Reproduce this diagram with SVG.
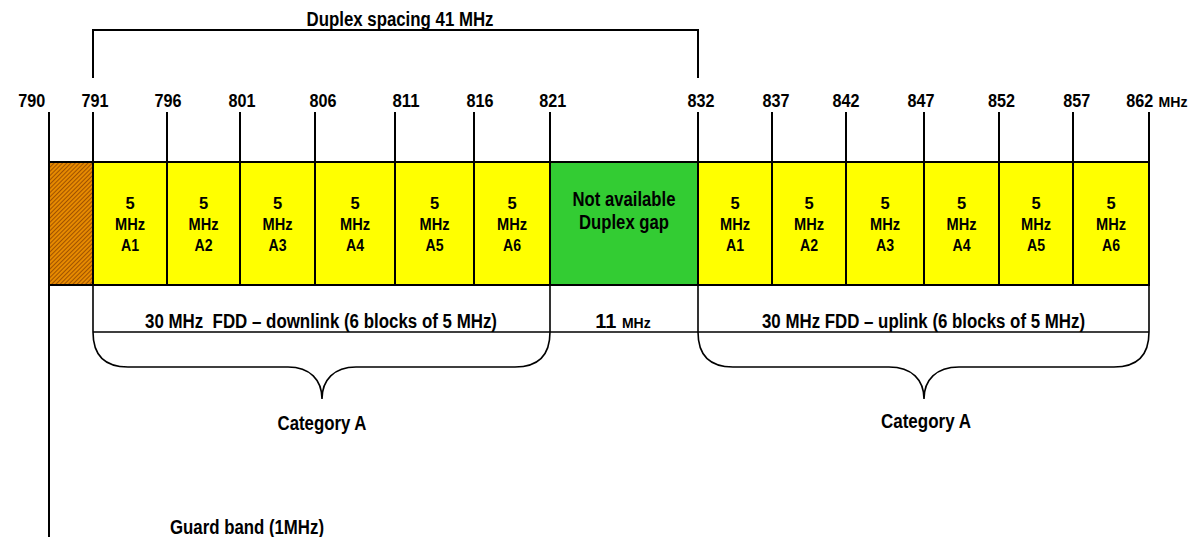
<svg xmlns="http://www.w3.org/2000/svg" width="1189" height="537" viewBox="0 0 1189 537">
<style>
text{font-family:"Liberation Sans",Arial,sans-serif;font-weight:bold;fill:#000;text-anchor:middle;white-space:pre}
.tick{font-size:18px}
.big{font-size:20px}
.blk{font-size:16.5px}
.sm{font-size:14px}
.ln{stroke:#000;stroke-width:2;fill:none}
.thin{stroke:#000;stroke-width:1.6;fill:none}
.yel{fill:#FFFF00;stroke:#000;stroke-width:2}
.grn{fill:#33CC33;stroke:#000;stroke-width:2}
</style>
<defs>
<pattern id="hatch" width="3" height="3" patternUnits="userSpaceOnUse" patternTransform="rotate(45)">
<rect width="3" height="3" fill="#E68A00"/>
<line x1="0" y1="0" x2="0" y2="3" stroke="#7A3300" stroke-width="1.3"/>
</pattern>
</defs>
<g id="guard"><rect x="49" y="162" width="44" height="123" fill="url(#hatch)" stroke="#000" stroke-width="2"/></g>
<g id="dl">
<rect class="yel" x="93" y="162" width="74" height="123"/>
<rect class="yel" x="167" y="162" width="73" height="123"/>
<rect class="yel" x="240" y="162" width="75" height="123"/>
<rect class="yel" x="315" y="162" width="80" height="123"/>
<rect class="yel" x="395" y="162" width="79" height="123"/>
<rect class="yel" x="474" y="162" width="76" height="123"/>
</g>
<g id="gap"><rect class="grn" x="550" y="162" width="148" height="123"/>
<text class="big" x="624" y="206" textLength="103" lengthAdjust="spacingAndGlyphs">Not available</text>
<text class="big" x="624" y="229" textLength="90" lengthAdjust="spacingAndGlyphs">Duplex gap</text></g>
<g id="ul">
<rect class="yel" x="698" y="162" width="74" height="123"/>
<rect class="yel" x="772" y="162" width="74" height="123"/>
<rect class="yel" x="846" y="162" width="78" height="123"/>
<rect class="yel" x="924" y="162" width="75" height="123"/>
<rect class="yel" x="999" y="162" width="74" height="123"/>
<rect class="yel" x="1073" y="162" width="76" height="123"/>
</g>
<g id="blocklabels">
<text class="blk" x="130" y="209">5</text><text class="blk" x="130" y="230" textLength="30" lengthAdjust="spacingAndGlyphs">MHz</text><text class="blk" x="130" y="251" textLength="18" lengthAdjust="spacingAndGlyphs">A1</text>
<text class="blk" x="203.5" y="209">5</text><text class="blk" x="203.5" y="230" textLength="30" lengthAdjust="spacingAndGlyphs">MHz</text><text class="blk" x="203.5" y="251" textLength="18" lengthAdjust="spacingAndGlyphs">A2</text>
<text class="blk" x="277.5" y="209">5</text><text class="blk" x="277.5" y="230" textLength="30" lengthAdjust="spacingAndGlyphs">MHz</text><text class="blk" x="277.5" y="251" textLength="18" lengthAdjust="spacingAndGlyphs">A3</text>
<text class="blk" x="355" y="209">5</text><text class="blk" x="355" y="230" textLength="30" lengthAdjust="spacingAndGlyphs">MHz</text><text class="blk" x="355" y="251" textLength="18" lengthAdjust="spacingAndGlyphs">A4</text>
<text class="blk" x="434.5" y="209">5</text><text class="blk" x="434.5" y="230" textLength="30" lengthAdjust="spacingAndGlyphs">MHz</text><text class="blk" x="434.5" y="251" textLength="18" lengthAdjust="spacingAndGlyphs">A5</text>
<text class="blk" x="512" y="209">5</text><text class="blk" x="512" y="230" textLength="30" lengthAdjust="spacingAndGlyphs">MHz</text><text class="blk" x="512" y="251" textLength="18" lengthAdjust="spacingAndGlyphs">A6</text>
<text class="blk" x="735" y="209">5</text><text class="blk" x="735" y="230" textLength="30" lengthAdjust="spacingAndGlyphs">MHz</text><text class="blk" x="735" y="251" textLength="18" lengthAdjust="spacingAndGlyphs">A1</text>
<text class="blk" x="809" y="209">5</text><text class="blk" x="809" y="230" textLength="30" lengthAdjust="spacingAndGlyphs">MHz</text><text class="blk" x="809" y="251" textLength="18" lengthAdjust="spacingAndGlyphs">A2</text>
<text class="blk" x="885" y="209">5</text><text class="blk" x="885" y="230" textLength="30" lengthAdjust="spacingAndGlyphs">MHz</text><text class="blk" x="885" y="251" textLength="18" lengthAdjust="spacingAndGlyphs">A3</text>
<text class="blk" x="961.5" y="209">5</text><text class="blk" x="961.5" y="230" textLength="30" lengthAdjust="spacingAndGlyphs">MHz</text><text class="blk" x="961.5" y="251" textLength="18" lengthAdjust="spacingAndGlyphs">A4</text>
<text class="blk" x="1036" y="209">5</text><text class="blk" x="1036" y="230" textLength="30" lengthAdjust="spacingAndGlyphs">MHz</text><text class="blk" x="1036" y="251" textLength="18" lengthAdjust="spacingAndGlyphs">A5</text>
<text class="blk" x="1111" y="209">5</text><text class="blk" x="1111" y="230" textLength="30" lengthAdjust="spacingAndGlyphs">MHz</text><text class="blk" x="1111" y="251" textLength="18" lengthAdjust="spacingAndGlyphs">A6</text>
</g>
<g id="connectors">
<path class="ln" d="M49,112V537 M93,112V285 M167,112V285 M240,112V285 M315,112V285 M395,112V285 M474,112V285 M550,112V285 M698,112V285 M772,112V285 M846,112V285 M924,112V285 M999,112V285 M1073,112V285 M1149,112V285"/>
<path class="ln" d="M93,78V30H698V78"/>
<path class="thin" d="M93,285V332 M550,285V332 M698,285V332 M1149,285V332 M93,332H1149"/>
<path class="thin" d="M93,332 C93,354 104,367 128,367 L288,367 C310,367 322,380 322,399 C322,380 334,367 356,367 L515,367 C539,367 550,354 550,332"/>
<path class="thin" d="M698,332 C698,354 709,367 733,367 L889,367 C912,367 924,380 924,399 C924,380 936,367 959,367 L1114,367 C1138,367 1149,354 1149,332"/>
</g>
<g id="ticklabels">
<text class="tick" x="31.7" y="107" textLength="27" lengthAdjust="spacingAndGlyphs">790</text>
<text class="tick" x="95" y="107" textLength="27" lengthAdjust="spacingAndGlyphs">791</text>
<text class="tick" x="168" y="107" textLength="27" lengthAdjust="spacingAndGlyphs">796</text>
<text class="tick" x="242" y="107" textLength="27" lengthAdjust="spacingAndGlyphs">801</text>
<text class="tick" x="323" y="107" textLength="27" lengthAdjust="spacingAndGlyphs">806</text>
<text class="tick" x="406" y="107" textLength="27" lengthAdjust="spacingAndGlyphs">811</text>
<text class="tick" x="480" y="107" textLength="27" lengthAdjust="spacingAndGlyphs">816</text>
<text class="tick" x="552.7" y="107" textLength="27" lengthAdjust="spacingAndGlyphs">821</text>
<text class="tick" x="701" y="107" textLength="27" lengthAdjust="spacingAndGlyphs">832</text>
<text class="tick" x="776" y="107" textLength="27" lengthAdjust="spacingAndGlyphs">837</text>
<text class="tick" x="846" y="107" textLength="27" lengthAdjust="spacingAndGlyphs">842</text>
<text class="tick" x="921" y="107" textLength="27" lengthAdjust="spacingAndGlyphs">847</text>
<text class="tick" x="1001.5" y="107" textLength="27" lengthAdjust="spacingAndGlyphs">852</text>
<text class="tick" x="1076.7" y="107" textLength="27" lengthAdjust="spacingAndGlyphs">857</text>
<text class="tick" x="1139.7" y="107" textLength="27" lengthAdjust="spacingAndGlyphs">862</text>
<text class="sm" x="1173" y="107" textLength="29" lengthAdjust="spacingAndGlyphs">MHz</text>
</g>
<g id="labels">
<text class="big" x="400" y="26" textLength="187" lengthAdjust="spacingAndGlyphs">Duplex spacing 41 MHz</text>
<text class="big" x="321" y="328" textLength="352" lengthAdjust="spacingAndGlyphs">30 MHz  FDD – downlink (6 blocks of 5 MHz)</text>
<text class="big" x="623" y="328">11 <tspan class="sm">MHz</tspan></text>
<text class="big" x="923.5" y="328" textLength="323" lengthAdjust="spacingAndGlyphs">30 MHz FDD – uplink (6 blocks of 5 MHz)</text>
<text class="big" x="322" y="430" textLength="89" lengthAdjust="spacingAndGlyphs">Category A</text>
<text class="big" x="926" y="428" textLength="90" lengthAdjust="spacingAndGlyphs">Category A</text>
<text class="big" x="247" y="534" textLength="154" lengthAdjust="spacingAndGlyphs">Guard band (1MHz)</text>
</g>
</svg>
